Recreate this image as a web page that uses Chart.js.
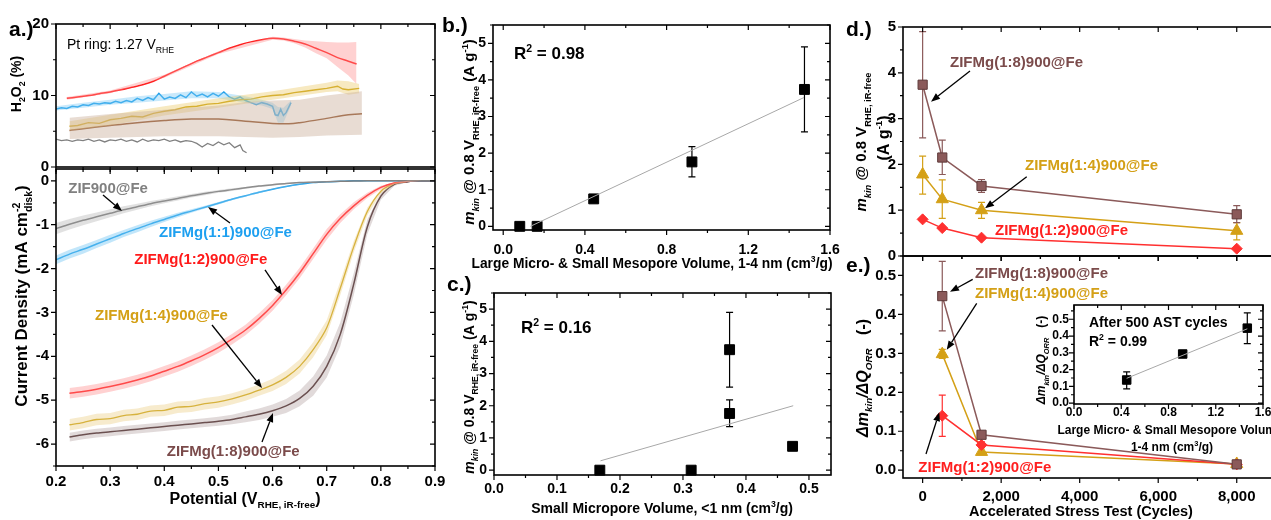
<!DOCTYPE html>
<html>
<head>
<meta charset="utf-8">
<script src="https://cdn.jsdelivr.net/npm/chart.js@4.4.1/dist/chart.umd.min.js"></script>
<style>
html, body { margin: 0; padding: 0; background: #fff; width: 1271px; height: 520px; overflow: hidden; }
canvas { position: absolute; left: 0; top: 0; }
</style>
</head>
<body>
<script>
// ---- panel a (top): H2O2 yield ----
const redH2X = [0.22,0.24,0.26,0.28,0.30,0.32,0.34,0.36,0.38,0.40,0.42,0.44,0.46,0.48,0.50,0.52,0.54,0.56,0.58,0.60,0.62,0.64,0.66,0.68,0.70,0.72,0.74,0.755];
const redH2Y = [9.6,9.8,10.0,10.25,10.5,10.8,11.15,11.5,12.0,12.7,13.4,14.1,14.8,15.4,16.0,16.6,17.1,17.5,17.8,18.0,17.9,17.6,17.2,16.6,16.0,15.3,14.8,14.4];
const redBandX = [0.22,0.30,0.40,0.50,0.60,0.62,0.64,0.66,0.68,0.70,0.72,0.74,0.755];
const redBandHi = [9.8,10.7,12.9,16.2,18.2,18.1,17.9,17.7,17.6,17.5,17.4,17.4,17.5];
const redBandLo = [9.4,10.3,12.5,15.8,17.8,17.7,17.3,16.7,15.9,15.2,14.0,12.8,11.6];

const goldH2X = [0.225,0.24,0.26,0.28,0.30,0.32,0.34,0.36,0.38,0.40,0.42,0.44,0.46,0.48,0.50,0.52,0.54,0.56,0.58,0.60,0.62,0.64,0.66,0.68,0.70,0.72,0.73,0.74,0.76];
const goldH2Y = [5.7,5.8,6.2,6.1,6.6,6.8,7.1,7.0,7.5,7.8,8.0,8.4,8.5,8.8,8.9,9.2,9.4,9.5,9.8,10.0,10.1,10.4,10.6,10.8,11.0,11.3,10.9,10.8,11.0];
const goldBandX = [0.225,0.30,0.40,0.50,0.60,0.70,0.72,0.74,0.76];
const goldBandHi = [6.4,7.3,8.5,9.6,10.6,11.8,12.1,12.0,11.6];
const goldBandLo = [5.1,5.8,7.2,8.3,9.4,10.5,10.6,10.1,10.3];

const brownH2X = [0.225,0.25,0.30,0.35,0.40,0.45,0.50,0.55,0.60,0.63,0.65,0.70,0.73,0.765];
const brownH2Y = [5.1,5.35,5.8,6.2,6.5,6.7,6.7,6.4,6.1,6.05,6.2,6.8,7.2,7.45];
const brownBandX = [0.225,0.30,0.40,0.50,0.55,0.60,0.65,0.70,0.765];
const brownBandHi = [6.9,7.4,8.0,8.6,9.1,9.3,9.4,10.0,10.6];
const brownBandLo = [3.9,4.1,4.3,4.3,4.2,4.1,4.2,4.4,4.5];

const blueH2X = [0.20,0.21,0.22,0.23,0.24,0.25,0.26,0.27,0.28,0.29,0.30,0.31,0.32,0.33,0.34,0.35,0.36,0.37,0.38,0.39,0.40,0.41,0.42,0.43,0.44,0.45,0.46,0.47,0.48,0.49,0.50,0.51,0.52,0.53,0.54,0.55,0.56,0.57,0.58,0.59,0.60,0.605,0.61,0.615,0.62,0.625,0.634];
const blueH2Y = [8.1,8.3,8.2,8.5,8.4,8.7,8.6,8.9,8.8,9.0,8.9,9.2,9.0,9.3,9.1,9.6,9.3,9.7,9.4,10.3,9.5,9.8,9.6,10.1,9.7,10.5,9.9,10.2,9.8,10.3,9.9,10.5,9.8,9.5,9.8,9.3,9.0,8.7,9.0,8.8,8.5,7.3,7.2,8.1,7.2,7.6,9.0];
const blueBandX = [0.20,0.25,0.30,0.35,0.40,0.45,0.50,0.55,0.58,0.60,0.61,0.62,0.634];
const blueBandHi = [8.5,9.0,9.4,9.9,10.2,10.6,10.5,9.9,9.4,9.0,8.4,8.3,9.3];
const blueBandLo = [7.9,8.3,8.7,9.0,9.3,9.6,9.6,9.0,8.6,8.1,6.2,6.2,8.6];

const grayH2X = [0.20,0.21,0.22,0.23,0.24,0.25,0.26,0.27,0.28,0.29,0.30,0.31,0.32,0.33,0.34,0.35,0.36,0.37,0.38,0.39,0.40,0.41,0.42,0.43,0.44,0.45,0.46,0.47,0.48,0.49,0.50,0.51,0.52,0.53,0.54,0.545,0.552];
const grayH2Y = [3.9,3.7,3.8,3.6,3.8,3.7,3.9,3.6,3.8,3.5,3.8,3.7,3.9,3.6,3.8,3.5,3.9,3.6,3.8,3.7,3.9,3.6,3.8,3.5,3.7,3.6,3.3,2.8,3.3,3.0,3.5,3.1,3.4,2.7,3.1,2.3,2.0];

// ---- panel a (bottom): current density ----
const potWide = [0.200,0.225,0.250,0.275,0.300,0.325,0.350,0.375,0.400,0.425,0.450,0.475,0.500,0.525,0.550,0.575,0.600,0.625,0.650,0.675,0.700,0.725,0.750,0.775,0.800,0.825,0.850,0.875,0.900];
const potNarrow = [0.225,0.250,0.275,0.300,0.325,0.350,0.375,0.400,0.425,0.450,0.475,0.500,0.525,0.550,0.575,0.600,0.625,0.650,0.675,0.700,0.725,0.750,0.775,0.800,0.825,0.850,0.875,0.900];
const zif900J = [-1.09,-0.99,-0.90,-0.82,-0.74,-0.66,-0.59,-0.52,-0.46,-0.40,-0.34,-0.29,-0.24,-0.20,-0.16,-0.12,-0.09,-0.06,-0.04,-0.03,-0.02,-0.01,-0.005,0,0,0,0,0,0];
const zif900W = [0.13,0.12,0.11,0.10,0.09,0.08,0.07,0.06,0.05,0.05,0.04,0.04,0.03,0.03,0.02,0.02,0.02,0.01,0.01,0.01,0.01,0,0,0,0,0,0,0,0];
const mg11J = [-1.80,-1.67,-1.56,-1.44,-1.32,-1.20,-1.09,-0.98,-0.88,-0.78,-0.69,-0.60,-0.51,-0.42,-0.34,-0.26,-0.19,-0.13,-0.08,-0.04,-0.02,-0.01,0,0,0,0,0,0,0];
const mg11W = [0.10,0.10,0.10,0.09,0.09,0.08,0.08,0.07,0.06,0.05,0.04,0.03,0.03,0.02,0.02,0.02,0.01,0.01,0.01,0,0,0,0,0,0,0,0,0,0];
const mg12J = [-4.84,-4.80,-4.75,-4.69,-4.62,-4.54,-4.45,-4.34,-4.23,-4.10,-3.96,-3.80,-3.61,-3.40,-3.14,-2.84,-2.49,-2.10,-1.66,-1.22,-0.86,-0.57,-0.33,-0.15,-0.05,-0.01,0,0];
const mg12W = [0.12,0.12,0.12,0.12,0.12,0.12,0.12,0.12,0.12,0.12,0.12,0.12,0.12,0.12,0.12,0.12,0.12,0.12,0.12,0.12,0.10,0.08,0.06,0.04,0.02,0.01,0,0];
const mg14J = [-5.56,-5.51,-5.44,-5.42,-5.35,-5.32,-5.25,-5.23,-5.16,-5.14,-5.08,-5.04,-4.97,-4.88,-4.77,-4.65,-4.48,-4.23,-3.85,-3.35,-2.45,-1.50,-0.70,-0.24,-0.06,-0.01,0,0];
const mg14W = [0.13,0.13,0.13,0.13,0.13,0.13,0.13,0.13,0.13,0.13,0.13,0.13,0.13,0.13,0.13,0.14,0.15,0.16,0.17,0.17,0.16,0.13,0.09,0.05,0.02,0.01,0,0];
const mg18J = [-5.84,-5.79,-5.75,-5.72,-5.69,-5.66,-5.63,-5.60,-5.57,-5.54,-5.51,-5.48,-5.44,-5.38,-5.32,-5.24,-5.13,-4.96,-4.68,-4.23,-3.50,-2.35,-1.05,-0.35,-0.08,-0.02,0,0];
const mg18W = [0.10,0.10,0.10,0.10,0.10,0.10,0.10,0.10,0.10,0.10,0.10,0.10,0.11,0.12,0.13,0.14,0.16,0.18,0.22,0.25,0.27,0.25,0.17,0.08,0.03,0.01,0,0];

// ---- panels b, c: kinetic mass activity vs pore volume ----
const bVol = [0.081, 0.166, 0.443, 0.924, 1.475];
const bMkin = [0.00, 0.00, 0.75, 1.76, 3.74];
const bErrLo = [null, null, null, 1.35, 2.58];
const bErrHi = [null, null, null, 2.18, 4.90];
const bFitX = [0.133, 1.473];
const bFitY = [0.00, 3.52];
const cVol = [0.168, 0.313, 0.374, 0.374, 0.474];
const cMkin = [0.00, 0.00, 3.74, 1.76, 0.74];
const cErrLo = [null, null, 2.58, 1.35, null];
const cErrHi = [null, null, 4.90, 2.18, null];
const cFitX = [0.169, 0.475];
const cFitY = [0.29, 2.00];

// ---- panel d: mkin over AST cycles ----
const cyclesD = [0, 500, 1500, 8000];
const d18 = [3.74, 2.15, 1.53, 0.91];
const d18Lo = [2.58, 1.78, 1.39, 0.73];
const d18Hi = [4.90, 2.53, 1.67, 1.10];
const d14 = [1.78, 1.24, 1.00, 0.55];
const d14Lo = [1.35, 0.82, 0.82, 0.35];
const d14Hi = [2.18, 1.66, 1.17, 0.73];
const d12 = [0.80, 0.61, 0.40, 0.16];

// ---- panel e: delta mkin / delta Q ----
const cyclesE = [500, 1500, 8000];
const e18 = [0.447, 0.091, 0.015];
const e18Lo = [0.358, null, null];
const e18Hi = [0.536, null, null];
const e14 = [0.298, 0.047, 0.016];
const e14Lo = [0.287, null, null];
const e14Hi = [0.310, null, null];
const e12 = [0.140, 0.065, 0.015];
const e12Lo = [0.087, 0.058, null];
const e12Hi = [0.193, 0.073, null];

// inset
const insVol = [0.446, 0.920, 1.467];
const insRatio = [0.138, 0.293, 0.447];
const insLo = [0.085, null, 0.355];
const insHi = [0.187, null, 0.538];
const insFitX = [0.446, 1.467];
const insFitY = [0.148, 0.443];

// ---- tick labels ----
const potTicks = [0.2,0.3,0.4,0.5,0.6,0.7,0.8,0.9];
const potLabels = ['0.2','0.3','0.4','0.5','0.6','0.7','0.8','0.9'];
const h2Ticks = [0,10,20];
const h2Labels = ['0','10','20'];
const jTicks = [0,-1,-2,-3,-4,-5,-6];
const jLabels = ['0','-1','-2','-3','-4','-5','-6'];
const volTicks = [0,0.4,0.8,1.2,1.6];
const volLabels = ['0.0','0.4','0.8','1.2','1.6'];
const microTicks = [0,0.1,0.2,0.3,0.4,0.5];
const microLabels = ['0.0','0.1','0.2','0.3','0.4','0.5'];
const mkinTicks = [0,1,2,3,4,5];
const mkinLabels = ['0','1','2','3','4','5'];
const astTicks = [0,2000,4000,6000,8000];
const astLabels = ['0','2,000','4,000','6,000','8,000'];
const ratioTicks = [0,0.1,0.2,0.3,0.4,0.5];
const ratioLabels = ['0.0','0.1','0.2','0.3','0.4','0.5'];

// ---- colours ----
const RED = '#ff1f1f', BLUE = '#1e9ee8', GOLD = '#c9a010', GOLDTXT = '#d4a017';
const BROWN = '#8a4a22', DARK18 = '#4a2c2c', TXT18 = '#7b4b4b', GRAY = '#808080', MAUVE = '#8b5a5a';

const W = 1300, H = 520;
const AXW = 50, AXH = 30;   // room kept for tick labels
const FONT = '"Liberation Sans", Arial, Helvetica, sans-serif';
Chart.defaults.font.family = FONT;

function pts(xs, ys) { return xs.map((x, i) => ({x: x, y: ys[i]})); }

function addCanvas() {
  const c = document.createElement('canvas');
  c.width = W; c.height = H;
  c.style.width = W + 'px'; c.style.height = H + 'px';
  document.body.appendChild(c);
  return c;
}

function axisCfg(a) {
  return {
    type: 'linear', min: a.min, max: a.max,
    grid: {display: false, drawTicks: false},
    border: {display: false},
    afterBuildTicks: s => { s.ticks = a.major.map(v => ({value: v})); },
    afterFit: s => { if (s.isHorizontal()) s.height = AXH; else s.width = AXW; },
    ticks: {
      display: !!a.labels, padding: a.pad || 6, color: '#000',
      autoSkip: false, maxRotation: 0, minRotation: 0,
      font: {family: FONT, size: a.size || 15, weight: 'bold'},
      callback: (v, i) => a.labels ? a.labels[i] : ''
    }
  };
}

function minorVals(major, step, lo, hi) {
  const out = [];
  const n0 = Math.ceil((lo - major[0]) / step - 1e-6);
  for (let i = n0; major[0] + i * step <= hi + 1e-9; i++) {
    const v = major[0] + i * step;
    if (!major.some(m => Math.abs(m - v) < step * 0.01)) out.push(v);
  }
  return out;
}

function framePlugin(xa, ya) {
  return {
    id: 'frame',
    afterDatasetsDraw(chart) {
      const ctx = chart.ctx, a = chart.chartArea, sx = chart.scales.x, sy = chart.scales.y;
      ctx.save();
      ctx.strokeStyle = '#000';
      ctx.lineWidth = 1.2;
      ctx.beginPath();
      const xm = [[xa.major, 5], [minorVals(xa.major, xa.minor, xa.min, xa.max), 3]];
      xm.forEach(([vals, len]) => vals.forEach(v => {
        const p = sx.getPixelForValue(v);
        ctx.moveTo(p, a.bottom); ctx.lineTo(p, a.bottom + len);
        ctx.moveTo(p, a.top); ctx.lineTo(p, a.top + len);
      }));
      const ym = [[ya.major, 5], [minorVals(ya.major, ya.minor, ya.min, ya.max), 3]];
      ym.forEach(([vals, len]) => vals.forEach(v => {
        const p = sy.getPixelForValue(v);
        ctx.moveTo(a.left, p); ctx.lineTo(a.left - len, p);
        ctx.moveTo(a.right, p); ctx.lineTo(a.right - len, p);
      }));
      ctx.stroke();
      ctx.lineWidth = 1.6;
      ctx.strokeRect(a.left, a.top, a.right - a.left, a.bottom - a.top);
      ctx.restore();
    }
  };
}

const errPlugin = {
  id: 'errbars',
  beforeDatasetsDraw(chart) {
    const ctx = chart.ctx, sy = chart.scales.y;
    chart.data.datasets.forEach((ds, i) => {
      if (!ds.errLo) return;
      const meta = chart.getDatasetMeta(i);
      ctx.save();
      ctx.strokeStyle = ds.errColor || ds.borderColor;
      ctx.lineWidth = 1.2;
      meta.data.forEach((p, j) => {
        const lo = ds.errLo[j], hi = ds.errHi[j];
        if (lo == null) return;
        const y1 = sy.getPixelForValue(lo), y2 = sy.getPixelForValue(hi), w = ds.cap || 3.5;
        ctx.beginPath();
        ctx.moveTo(p.x, y1); ctx.lineTo(p.x, y2);
        ctx.moveTo(p.x - w, y1); ctx.lineTo(p.x + w, y1);
        ctx.moveTo(p.x - w, y2); ctx.lineTo(p.x + w, y2);
        ctx.stroke();
      });
      ctx.restore();
    });
  }
};

function drawArrow(ctx, x1, y1, x2, y2) {
  const ang = Math.atan2(y2 - y1, x2 - x1), L = 9, hw = 3.5;
  const bx = x2 - L * Math.cos(ang), by = y2 - L * Math.sin(ang);
  ctx.strokeStyle = '#000'; ctx.fillStyle = '#000'; ctx.lineWidth = 1.3;
  ctx.beginPath(); ctx.moveTo(x1, y1); ctx.lineTo(bx, by); ctx.stroke();
  ctx.beginPath(); ctx.moveTo(x2, y2);
  ctx.lineTo(bx + hw * Math.sin(ang), by - hw * Math.cos(ang));
  ctx.lineTo(bx - hw * Math.sin(ang), by + hw * Math.cos(ang));
  ctx.closePath(); ctx.fill();
}

function notesPlugin(n) {
  return {
    id: 'notes',
    afterDraw(chart) {
      const ctx = chart.ctx, sx = chart.scales.x, sy = chart.scales.y;
      ctx.save();
      (n.arrows || []).forEach(a => drawArrow(ctx, sx.getPixelForValue(a[0]), sy.getPixelForValue(a[1]), sx.getPixelForValue(a[2]), sy.getPixelForValue(a[3])));
      (n.texts || []).forEach(t => {
        ctx.font = 'bold ' + (t.size || 15) + 'px ' + FONT;
        ctx.fillStyle = t.c; ctx.textAlign = 'left'; ctx.textBaseline = 'middle';
        ctx.fillText(t.t, sx.getPixelForValue(t.x), sy.getPixelForValue(t.y));
      });
      ctx.restore();
    }
  };
}

function makeChart(box, xa, ya, datasets, notes) {
  const cv = addCanvas();
  return new Chart(cv, {
    type: 'line',
    data: {datasets: datasets},
    options: {
      responsive: false, animation: false, devicePixelRatio: 1, events: [],
      layout: {padding: {left: box.l - AXW, top: box.t, right: W - box.r, bottom: H - box.b - AXH}},
      scales: {x: axisCfg(xa), y: axisCfg(ya)},
      plugins: {legend: {display: false}, tooltip: {enabled: false}},
      elements: {point: {radius: 0}, line: {tension: 0}}
    },
    plugins: [errPlugin, framePlugin(xa, ya), notesPlugin(notes || {})]
  });
}

function lineDs(xs, ys, color, w, extra) {
  return Object.assign({data: pts(xs, ys), borderColor: color, borderWidth: w, pointRadius: 0, fill: false}, extra || {});
}
function bandDs(xs, hi, lo, color) {
  return [
    {data: pts(xs, hi), borderColor: 'transparent', borderWidth: 0, pointRadius: 0, fill: false},
    {data: pts(xs, lo), borderColor: 'transparent', borderWidth: 0, pointRadius: 0, fill: '-1', backgroundColor: color}
  ];
}
function spread(ys, ws, sign) { return ys.map((v, i) => v + sign * ws[i]); }
function markDs(xs, ys, color, style, r, extra) {
  return Object.assign({
    data: pts(xs, ys), showLine: false, borderColor: color, borderWidth: 1.5,
    pointStyle: style, pointRadius: r, pointBackgroundColor: color, pointBorderColor: color, pointBorderWidth: 1,
    clip: false
  }, extra || {});
}

// ---- panel a top ----
makeChart({l: 56, t: 24, r: 435, b: 167},
  {min: 0.2, max: 0.9, major: potTicks, minor: 0.05, labels: null},
  {min: 0, max: 20, major: h2Ticks, minor: 5, labels: h2Labels, size: 15, pad: 7},
  [].concat(
    bandDs(brownBandX, brownBandHi, brownBandLo, 'rgba(205,178,158,0.45)'),
    bandDs(goldBandX, goldBandHi, goldBandLo, 'rgba(236,200,100,0.40)'),
    bandDs(blueBandX, blueBandHi, blueBandLo, 'rgba(120,200,245,0.40)'),
    bandDs(redBandX, redBandHi, redBandLo, 'rgba(255,140,140,0.40)'),
    [
      lineDs(brownH2X, brownH2Y, BROWN, 1.5, {tension: 0.4}),
      lineDs(goldH2X, goldH2Y, GOLD, 1.4),
      lineDs(blueH2X, blueH2Y, BLUE, 1.5),
      lineDs(redH2X, redH2Y, RED, 1.5, {tension: 0.4}),
      lineDs(grayH2X, grayH2Y, GRAY, 1.3)
    ]
  ));

// ---- panel a bottom ----
makeChart({l: 56, t: 169, r: 435, b: 466},
  {min: 0.2, max: 0.9, major: potTicks, minor: 0.05, labels: potLabels, size: 15, pad: 7},
  {min: -6.5, max: 0.27, major: jTicks, minor: 0.5, labels: jLabels, size: 15, pad: 7},
  [].concat(
    bandDs(potWide, spread(zif900J, zif900W, 1), spread(zif900J, zif900W, -1), 'rgba(170,170,170,0.35)'),
    bandDs(potWide, spread(mg11J, mg11W, 1), spread(mg11J, mg11W, -1), 'rgba(120,200,245,0.45)'),
    bandDs(potNarrow, spread(mg12J, mg12W, 1), spread(mg12J, mg12W, -1), 'rgba(255,140,140,0.40)'),
    bandDs(potNarrow, spread(mg14J, mg14W, 1), spread(mg14J, mg14W, -1), 'rgba(236,205,130,0.40)'),
    bandDs(potNarrow, spread(mg18J, mg18W, 1), spread(mg18J, mg18W, -1), 'rgba(170,150,150,0.35)'),
    [
      lineDs(potWide, zif900J, GRAY, 1.5, {tension: 0.3}),
      lineDs(potWide, mg11J, BLUE, 1.5, {tension: 0.3}),
      lineDs(potNarrow, mg12J, RED, 1.5, {tension: 0.3}),
      lineDs(potNarrow, mg14J, GOLD, 1.3, {tension: 0.3}),
      lineDs(potNarrow, mg18J, DARK18, 1.5, {tension: 0.3})
    ]
  ),
  {
    texts: [
      {t: 'ZIF900@Fe', x: 0.2226, y: -0.186, c: GRAY},
      {t: 'ZIFMg(1:1)900@Fe', x: 0.3902, y: -1.196, c: '#1ea0f0'},
      {t: 'ZIFMg(1:2)900@Fe', x: 0.3446, y: -1.804, c: '#ff1a1a'},
      {t: 'ZIFMg(1:4)900@Fe', x: 0.2720, y: -3.074, c: GOLDTXT},
      {t: 'ZIFMg(1:8)900@Fe', x: 0.4045, y: -6.174, c: TXT18}
    ],
    arrows: [
      [0.2868, -0.323, 0.3219, -0.687],
      [0.5214, -0.961, 0.4808, -0.596],
      [0.5860, -2.032, 0.6174, -2.602],
      [0.4881, -3.286, 0.5805, -4.722],
      [0.5805, -5.953, 0.6008, -5.292]
    ]
  });

// ---- panel b ----
makeChart({l: 493, t: 25, r: 830, b: 230},
  {min: -0.05, max: 1.6, major: volTicks, minor: 0.2, labels: volLabels, size: 14, pad: 12},
  {min: -0.1, max: 5.5, major: mkinTicks, minor: 0.5, labels: mkinLabels, size: 14, pad: 7},
  [
    lineDs(bFitX, bFitY, '#a8a8a8', 1),
    markDs(bVol, bMkin, '#000', 'rect', 7, {errLo: bErrLo, errHi: bErrHi, errColor: '#000'})
  ]);

// ---- panel c ----
makeChart({l: 494, t: 293, r: 831, b: 475},
  {min: 0, max: 0.535, major: microTicks, minor: 0.05, labels: microLabels, size: 14, pad: 6},
  {min: -0.15, max: 5.5, major: mkinTicks, minor: 0.5, labels: mkinLabels, size: 14, pad: 7},
  [
    lineDs(cFitX, cFitY, '#a8a8a8', 1),
    markDs(cVol, cMkin, '#000', 'rect', 7, {errLo: cErrLo, errHi: cErrHi, errColor: '#000'})
  ]);

// ---- panel d ----
makeChart({l: 903, t: 27, r: 1276, b: 256},
  {min: -500, max: 9000, major: astTicks, minor: 1000, labels: null},
  {min: 0, max: 5, major: mkinTicks, minor: 0.5, labels: mkinLabels, size: 15, pad: 7},
  [
    markDs(cyclesD, d12, '#ff3030', 'rectRot', 5.5, {showLine: true}),
    markDs(cyclesD, d14, GOLDTXT, 'triangle', 7, {showLine: true, errLo: d14Lo, errHi: d14Hi}),
    markDs(cyclesD, d18, MAUVE, 'rect', 6.5, {showLine: true, errLo: d18Lo, errHi: d18Hi, pointBorderColor: '#5e3a3a'})
  ],
  {
    texts: [
      {t: 'ZIFMg(1:8)900@Fe', x: 697, y: 4.21, c: TXT18},
      {t: 'ZIFMg(1:4)900@Fe', x: 2607, y: 1.97, c: GOLDTXT},
      {t: 'ZIFMg(1:2)900@Fe', x: 1843, y: 0.553, c: '#ff2020'}
    ],
    arrows: [
      [1206, 4.04, 213, 3.37],
      [2651, 1.73, 1589, 1.04]
    ]
  });

// ---- panel e ----
makeChart({l: 903, t: 256, r: 1276, b: 478},
  {min: -500, max: 9000, major: astTicks, minor: 1000, labels: astLabels, size: 15, pad: 10},
  {min: -0.02, max: 0.55, major: ratioTicks, minor: 0.05, labels: ratioLabels, size: 15, pad: 7},
  [
    markDs(cyclesE, e18, MAUVE, 'rect', 6.5, {showLine: true, errLo: e18Lo, errHi: e18Hi, pointBorderColor: '#5e3a3a'}),
    markDs(cyclesE, e12, '#ff3030', 'rectRot', 5.5, {showLine: true, errLo: e12Lo, errHi: e12Hi}),
    markDs(cyclesE, e14, GOLDTXT, 'triangle', 7, {showLine: true, errLo: e14Lo, errHi: e14Hi})
  ],
  {
    texts: [
      {t: 'ZIFMg(1:8)900@Fe', x: 1334, y: 0.504, c: TXT18},
      {t: 'ZIFMg(1:4)900@Fe', x: 1334, y: 0.454, c: GOLDTXT},
      {t: 'ZIFMg(1:2)900@Fe', x: -110, y: 0.005, c: '#ff2020'}
    ],
    arrows: [
      [1275, 0.490, 697, 0.458],
      [1377, 0.4285, 613, 0.309],
      [86, 0.0416, 425, 0.149]
    ]
  });

// ---- inset in e ----
makeChart({l: 1074, t: 305, r: 1263, b: 404},
  {min: 0, max: 1.6, major: volTicks, minor: 0.2, labels: volLabels, size: 12, pad: 1},
  {min: -0.005, max: 0.585, major: ratioTicks, minor: 0.05, labels: ratioLabels, size: 12, pad: 5},
  [
    lineDs(insFitX, insFitY, '#a8a8a8', 1),
    markDs(insVol, insRatio, '#000', 'rect', 6, {errLo: insLo, errHi: insHi, errColor: '#000', cap: 3.5})
  ]);

// ---- titles and panel letters ----
function drawRich(ctx, parts, x, y, size, opt) {
  opt = opt || {};
  const weight = opt.weight || 'bold';
  const small = Math.round(size * 0.62 * 10) / 10;
  const fontOf = k => (k.includes('i') ? 'italic ' : '') + weight + ' ' + (/s[bp]/.test(k) ? small : size) + 'px ' + FONT;
  const items = parts.map(p => { const k = p[1] || 'n'; ctx.font = fontOf(k); return {s: p[0], k: k, w: ctx.measureText(p[0]).width}; });
  let total = 0;
  items.forEach(it => { if (!it.k.includes('k')) total += it.w; });
  ctx.save();
  ctx.translate(x, y);
  if (opt.rot) ctx.rotate(-Math.PI / 2);
  ctx.fillStyle = '#000';
  ctx.textBaseline = 'alphabetic';
  ctx.textAlign = 'left';
  let cx = opt.left ? 0 : -total / 2;
  const base = size * 0.36;
  items.forEach(it => {
    ctx.font = fontOf(it.k);
    let dy = base;
    if (it.k.startsWith('sb')) dy += size * 0.28;
    if (it.k.startsWith('sp')) dy -= size * 0.42;
    ctx.fillText(it.s, cx, dy);
    if (!it.k.includes('k')) cx += it.w;
  });
  ctx.restore();
}

const tc = addCanvas().getContext('2d');
const mkinTitle = [['m', 'i'], ['kin', 'sbi'], [' @ 0.8 V'], ['RHE, iR-free', 'sb'], [' (A g'], ['-1', 'sp'], [')']];
const ratioTitle = [['\u0394', 'i'], ['m', 'i'], ['kin', 'sbi'], ['/', 'i'], ['\u0394', 'i'], ['Q', 'i'], ['ORR', 'sbi'], ['   (-)']];

drawRich(tc, [['a.)']], 9, 28, 21, {left: true});
drawRich(tc, [['b.)']], 442, 24, 21, {left: true});
drawRich(tc, [['c.)']], 447, 283, 21, {left: true});
drawRich(tc, [['d.)']], 846, 28, 21, {left: true});
drawRich(tc, [['e.)']], 846, 264, 21, {left: true});

drawRich(tc, [['H'], ['2', 'sb'], ['O'], ['2', 'sb'], [' (%)']], 16, 84, 14, {rot: true});
drawRich(tc, [['Current Density (mA cm'], ['-2', 'spk'], ['disk', 'sb'], [')']], 21, 296, 17, {rot: true});
drawRich(tc, [['Potential (V'], ['RHE, iR-free', 'sb'], [')']], 245, 498, 16);
drawRich(tc, [['Pt ring: 1.27 V'], ['RHE', 'sb']], 67, 44, 14, {left: true, weight: 'normal'});

drawRich(tc, mkinTitle, 469, 132, 15, {rot: true});
drawRich(tc, [['Large Micro- & Small Mesopore Volume, 1-4 nm (cm'], ['3', 'sp'], ['/g)']], 652, 263, 13.8);
drawRich(tc, [['R'], ['2', 'sp'], [' = 0.98']], 514, 53, 17, {left: true});

drawRich(tc, mkinTitle, 469, 387, 14, {rot: true});
drawRich(tc, [['Small Micropore Volume, <1 nm (cm'], ['3', 'sp'], ['/g)']], 662, 508, 14);
drawRich(tc, [['R'], ['2', 'sp'], [' = 0.16']], 521, 327, 17, {left: true});

drawRich(tc, [['m', 'i'], ['kin', 'sbi'], [' @ 0.8 V'], ['RHE, iR-free', 'sb']], 861, 142, 15, {rot: true});
drawRich(tc, [['(A g'], ['-1', 'sp'], [')']], 883, 138, 16, {rot: true});

drawRich(tc, ratioTitle, 862, 378, 16, {rot: true});
drawRich(tc, [['Accelerated Stress Test (Cycles)']], 1081, 511, 14.5);

drawRich(tc, ratioTitle, 1041, 360, 12, {rot: true});
drawRich(tc, [['After 500 AST cycles']], 1089, 322, 14, {left: true});
drawRich(tc, [['R'], ['2', 'sp'], [' = 0.99']], 1089, 341, 14, {left: true});
drawRich(tc, [['Large Micro- & Small Mesopore Volume']], 1170, 430, 12);
drawRich(tc, [['1-4 nm (cm'], ['3', 'sp'], ['/g)']], 1172, 447, 12);
</script>
</body>
</html>
